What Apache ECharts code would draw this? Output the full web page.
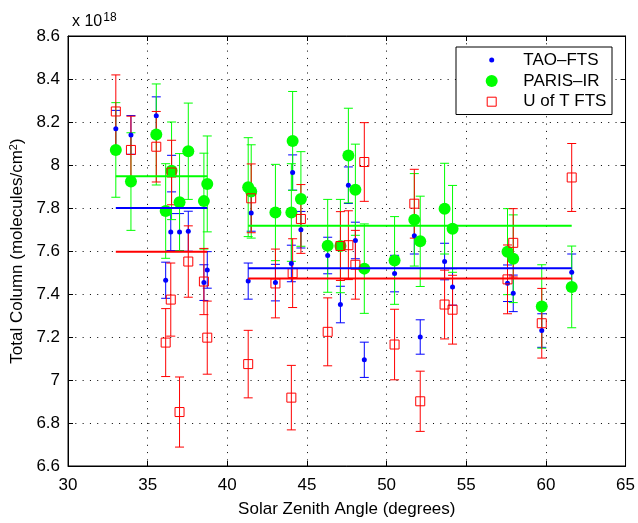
<!DOCTYPE html>
<html>
<head>
<meta charset="utf-8">
<script src="https://cdn.jsdelivr.net/npm/echarts@6/dist/echarts.min.js"></script>
<style>
html,body{margin:0;padding:0;background:#fff;}
#chart{width:638px;height:523px;}
</style>
</head>
<body>
<div id="chart"></div>
<script>
// Solar zenith angle of each measurement (degrees)
var sza = [33.0, 33.95, 35.54, 36.13, 36.45, 36.5, 37.0, 37.55, 38.53, 38.74,
           41.31, 41.5, 43.02, 44.02, 44.1, 44.62, 46.3, 47.1, 47.6, 48.04,
           48.6, 50.5, 51.74, 52.11, 53.64, 54.14, 57.59, 57.95, 59.74, 61.62];
// Total column values (x 1e18 molecules/cm^2)
var taoFts = [8.169, 8.14, 8.229, 7.464, 7.688, 7.96, 7.688, 7.692, 7.453, 7.512,
              7.46, 7.777, 7.453, 7.542, 7.965, 7.699, 7.579, 7.351, 7.906, 7.649,
              7.094, 7.495, 7.671, 7.2, 7.551, 7.433, 7.45, 7.403, 7.23, 7.501];
var taoErr = [0.085, 0.09, 0.088, 0.084, 0.086, 0.085, 0.086, 0.093, 0.083, 0.085,
              0.084, 0.085, 0.085, 0.085, 0.082, 0.085, 0.085, 0.085, 0.085, 0.085,
              0.082, 0.085, 0.085, 0.08, 0.085, 0.085, 0.085, 0.085, 0.078, 0.085];
var parisIr = [8.07, 7.923, 8.142, 7.786, null, 7.973, 7.827, 8.064, 7.832, 7.912,
               7.897, 7.877, 7.779, 7.779, 8.112, 7.842, 7.624, 7.623, 8.044, 7.885,
               7.518, 7.556, 7.745, 7.645, 7.797, 7.703, 7.597, 7.564, 7.342, 7.433];
var parisErr = [0.22, 0.227, 0.235, 0.22, null, 0.227, 0.226, 0.224, 0.223, 0.223,
                0.23, 0.217, 0.224, 0.227, 0.23, 0.22, 0.216, 0.217, 0.22, 0.212,
                0.208, 0.204, 0.215, 0.21, 0.211, 0.202, 0.2, 0.204, 0.194, 0.19];
var uotFts = [8.249, 8.07, 8.085, 7.174, 7.374, 7.965, 6.851, 7.551, 7.458, 7.197,
              7.074, 7.845, 7.449, 6.918, 7.497, 7.749, 7.224, 7.623, 7.627, 7.536,
              8.014, 7.165, 7.82, 6.901, 7.351, 7.327, 7.468, 7.638, 7.264, 7.942];
var uotErr = [0.17, 0.157, 0.164, 0.158, 0.17, 0.15, 0.163, 0.166, 0.154, 0.17,
              0.157, 0.16, 0.16, 0.15, 0.16, 0.16, 0.158, 0.16, 0.16, 0.16,
              0.183, 0.164, 0.16, 0.14, 0.16, 0.16, 0.16, 0.159, 0.162, 0.158];
// Group means (horizontal lines)
var groupStart = [33.0, 41.31];
var groupEnd = [38.74, 61.62];
var taoMean = [7.80, 7.52];
var parisMean = [7.948, 7.718];
var uotMean = [7.597, 7.472];
// Axis ticks
var xTicks = [30, 35, 40, 45, 50, 55, 60, 65];
var yTicks = [6.6, 6.8, 7, 7.2, 7.4, 7.6, 7.8, 8, 8.2, 8.4, 8.6];
// Legend labels
var legendNames = ['TAO–FTS', 'PARIS–IR', 'U of T FTS'];

var FONT = 'Liberation Sans, Arial, Helvetica, sans-serif';
var BLUE = '#0000ff', GREEN = '#00ff00', RED = '#ff0000';

function pts(vals, errs) {
  var out = [];
  for (var i = 0; i < sza.length; i++) {
    if (vals[i] == null) continue;
    out.push([sza[i], vals[i], errs ? errs[i] : 0]);
  }
  return out;
}
function meanLine(means) {
  var segs = [];
  for (var g = 0; g < means.length; g++) {
    segs.push([groupStart[g], means[g]]);
    segs.push([groupEnd[g], means[g]]);
    if (g < means.length - 1) segs.push([null, null]);
  }
  return segs;
}
function errRender(color) {
  return function (params, api) {
    var x = api.value(0), y = api.value(1), e = api.value(2);
    var t = api.coord([x, y + e]), b = api.coord([x, y - e]);
    var hw = 4.5;
    var st = {stroke: color, lineWidth: 1};
    return {type: 'group', children: [
      {type: 'line', shape: {x1: t[0], y1: t[1], x2: b[0], y2: b[1]}, style: st},
      {type: 'line', shape: {x1: t[0] - hw, y1: t[1], x2: t[0] + hw, y2: t[1]}, style: st},
      {type: 'line', shape: {x1: b[0] - hw, y1: b[1], x2: b[0] + hw, y2: b[1]}, style: st}
    ]};
  };
}

var chart = echarts.init(document.getElementById('chart'), null, {renderer: 'canvas'});

var gridLeft = 68, gridTop = 36, gridRight = 12, gridBottom = 47;

// legend box drawn as graphic elements
var lgX = 491.7, lgText = 523.3, lgRows = [60, 81, 101.7];
var legendGraphic = [
  {type: 'rect', left: 455.5, top: 46.5, z: 100,
   shape: {x: 0, y: 0, width: 156, height: 67.5},
   style: {fill: '#fff', stroke: '#000', lineWidth: 1}},
  {type: 'circle', z: 101, shape: {cx: lgX, cy: lgRows[0], r: 2.5}, style: {fill: BLUE}},
  {type: 'circle', z: 101, shape: {cx: lgX, cy: lgRows[1], r: 6}, style: {fill: GREEN}},
  {type: 'rect', z: 101, shape: {x: lgX - 4.5, y: lgRows[2] - 4.5, width: 9, height: 9},
   style: {fill: 'none', stroke: RED, lineWidth: 1}}
];
for (var k = 0; k < legendNames.length; k++) {
  legendGraphic.push({type: 'text', z: 101, x: lgText, y: lgRows[k],
    style: {text: legendNames[k], fill: '#000', font: '17px ' + FONT,
            textAlign: 'left', textVerticalAlign: 'middle', verticalAlign: 'middle'}});
}

var option = {
  animation: false,
  backgroundColor: '#fff',
  textStyle: {fontFamily: FONT},
  title: {
    text: '{a|x 10}{b|18}',
    left: 67, top: 7,
    textStyle: {
      fontWeight: 'normal',
      rich: {
        a: {fontFamily: FONT, fontSize: 16, color: '#000', fontWeight: 'normal'},
        b: {fontFamily: FONT, fontSize: 12, color: '#000', fontWeight: 'normal', padding: [0, 0, 8, 1]}
      }
    }
  },
  grid: {left: gridLeft, top: gridTop, right: gridRight, bottom: gridBottom, show: true,
         borderColor: '#000', borderWidth: 1, containLabel: false},
  graphic: legendGraphic,
  xAxis: [{
    type: 'value', min: 30, max: 65, interval: 5,
    name: 'Solar Zenith Angle (degrees)', nameLocation: 'middle', nameGap: 35,
    nameTextStyle: {fontFamily: FONT, fontSize: 17, color: '#000'},
    axisLine: {show: true, onZero: false, lineStyle: {color: '#000', width: 1}},
    axisTick: {show: true, inside: true, length: 5, lineStyle: {color: '#000'}},
    axisLabel: {fontFamily: FONT, fontSize: 17, color: '#000', margin: 11},
    splitLine: {show: true, lineStyle: {color: '#000', type: [1, 6.3], width: 1}}
  }, {
    type: 'value', min: 30, max: 65, interval: 5, position: 'top',
    axisLine: {show: true, onZero: false, lineStyle: {color: '#000'}},
    axisTick: {show: true, inside: true, length: 5, lineStyle: {color: '#000'}},
    axisLabel: {show: false}, splitLine: {show: false}
  }],
  yAxis: [{
    type: 'value', min: 6.6, max: 8.6, interval: 0.2,
    name: 'Total Column (molecules/cm{sup|2})', nameLocation: 'middle', nameGap: 34, nameRotate: 90,
    nameTextStyle: {fontFamily: FONT, fontSize: 17, color: '#000',
      rich: {sup: {fontFamily: FONT, fontSize: 11, color: '#000', padding: [0, 0, 7, 0]}}},
    axisLine: {show: true, onZero: false, lineStyle: {color: '#000', width: 1}},
    axisTick: {show: true, inside: true, length: 5, lineStyle: {color: '#000'}},
    axisLabel: {fontFamily: FONT, fontSize: 17, color: '#000', margin: 8,
      formatter: function (v) { return String(Math.round(v * 10) / 10); }},
    splitLine: {show: true, lineStyle: {color: '#000', type: [1, 6.3], width: 1}}
  }, {
    type: 'value', min: 6.6, max: 8.6, interval: 0.2, position: 'right',
    axisLine: {show: true, onZero: false, lineStyle: {color: '#000'}},
    axisTick: {show: true, inside: true, length: 5, lineStyle: {color: '#000'}},
    axisLabel: {show: false}, splitLine: {show: false}
  }],
  series: [
    {name: 'tao-err', type: 'custom', renderItem: errRender(BLUE), data: pts(taoFts, taoErr),
     encode: {x: 0, y: 1}, clip: true, silent: true},
    {name: legendNames[0], type: 'scatter', data: pts(taoFts), symbol: 'circle', symbolSize: 5,
     itemStyle: {color: BLUE, opacity: 1}, silent: true},
    {name: 'paris-err', type: 'custom', renderItem: errRender(GREEN), data: pts(parisIr, parisErr),
     encode: {x: 0, y: 1}, clip: true, silent: true},
    {name: legendNames[1], type: 'scatter', data: pts(parisIr), symbol: 'circle', symbolSize: 12,
     itemStyle: {color: GREEN, opacity: 1}, silent: true},
    {name: 'uot-err', type: 'custom', renderItem: errRender(RED), data: pts(uotFts, uotErr),
     encode: {x: 0, y: 1}, clip: true, silent: true},
    {name: legendNames[2], type: 'scatter', data: pts(uotFts), symbol: 'rect', symbolSize: 9,
     itemStyle: {color: 'rgba(255,255,255,0)', borderColor: RED, borderWidth: 1, opacity: 1}, silent: true},
    {name: 'tao-mean', type: 'line', data: meanLine(taoMean), showSymbol: false, connectNulls: false,
     lineStyle: {color: BLUE, width: 2}, silent: true},
    {name: 'paris-mean', type: 'line', data: meanLine(parisMean), showSymbol: false, connectNulls: false,
     lineStyle: {color: GREEN, width: 2}, silent: true},
    {name: 'uot-mean', type: 'line', data: meanLine(uotMean), showSymbol: false, connectNulls: false,
     lineStyle: {color: RED, width: 2}, silent: true}
  ]
};
chart.setOption(option);
</script>
</body>
</html>
